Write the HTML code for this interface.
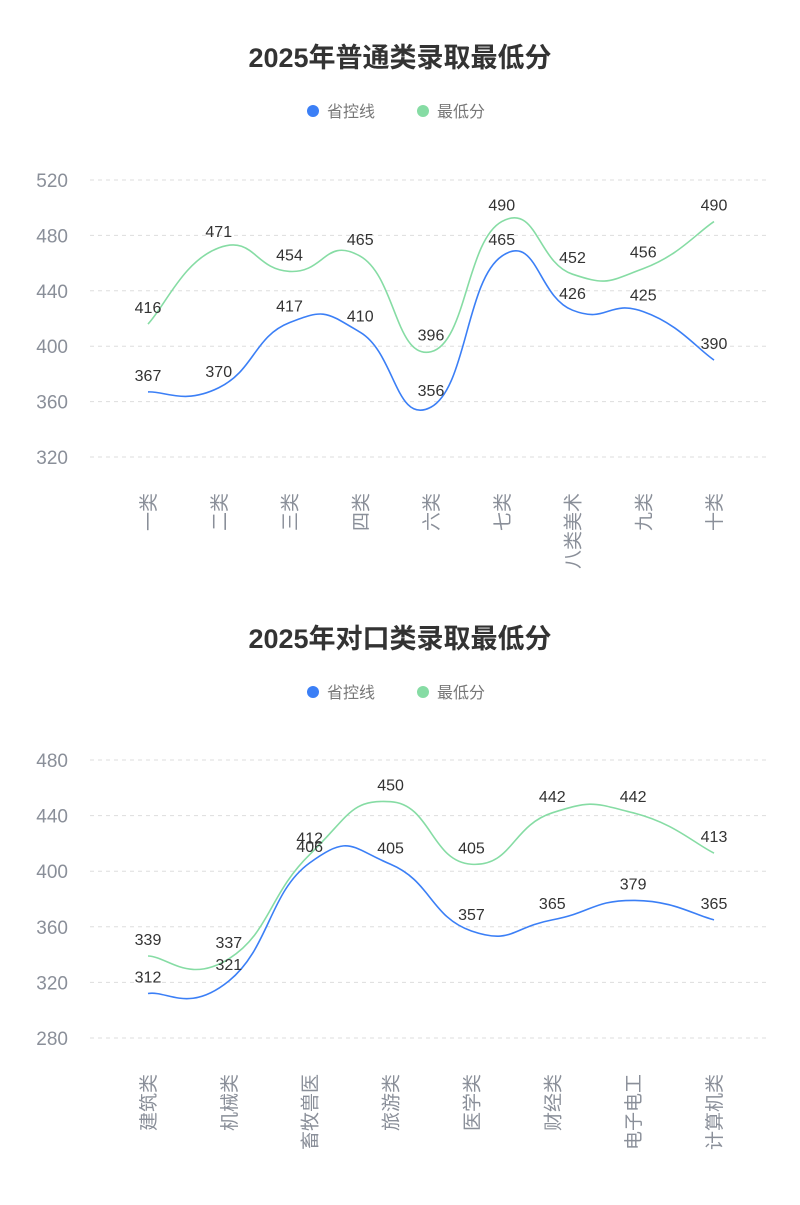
<!DOCTYPE html>
<html><head><meta charset="utf-8">
<style>
body{margin:0;background:#fff;width:800px;height:1200px;overflow:hidden}
svg text{font-family:"Liberation Sans","Noto Sans CJK SC",sans-serif}
</style></head><body>
<svg id="s" width="800" height="1200" xmlns="http://www.w3.org/2000/svg"></svg>
<script>
const S=document.getElementById('s');let h='';
function chart(o){
 const {title,ty,ly,cats,a,b,ymin,ymax,step,y0,y1,x0,x1}=o;
 h+=`<text x="400" y="${ty}" text-anchor="middle" font-size="27" font-weight="bold" fill="#333">${title}</text>`;
 h+=`<circle cx="313" cy="${ly}" r="6" fill="#3b7ff6"/><text x="327" y="${ly+6}" font-size="16" fill="#777">省控线</text>`;
 h+=`<circle cx="423" cy="${ly}" r="6" fill="#86dca4"/><text x="437" y="${ly+6}" font-size="16" fill="#777">最低分</text>`;
 const Y=v=>y0-(v-ymin)/(ymax-ymin)*(y0-y1);
 for(let v=ymin;v<=ymax;v+=step){const y=Y(v);
  h+=`<line x1="90" x2="770" y1="${y}" y2="${y}" stroke="#ddd" stroke-dasharray="4,4"/>`;
  h+=`<text x="68" y="${y+7}" text-anchor="end" font-size="19" fill="#8a8f99">${v}</text>`;}
 const n=cats.length,X=i=>x0+(x1-x0)*i/(n-1);
 cats.forEach((c,i)=>{h+=`<text transform="translate(${X(i)+7},${o.lab}) rotate(-90)" text-anchor="end" font-size="19" fill="#8a8f99">${c}</text>`});
 function path(d,col){const p=d.map((v,i)=>[X(i),Y(v)]);let s=`M${p[0]}`;const t=0.25;
  for(let i=0;i<p.length-1;i++){const p0=p[i-1]||p[i],p1=p[i],p2=p[i+1],p3=p[i+2]||p2;
   const c1=[p1[0]+(p2[0]-p0[0])*t,p1[1]+(p2[1]-p0[1])*t],c2=[p2[0]-(p3[0]-p1[0])*t,p2[1]-(p3[1]-p1[1])*t];
   s+=`C${c1} ${c2} ${p2}`;}
  h+=`<path d="${s}" fill="none" stroke="${col}" stroke-width="1.6"/>`;
  d.forEach((v,i)=>{h+=`<text x="${X(i)}" y="${Y(v)-11}" text-anchor="middle" font-size="16" fill="#333">${v}</text>`});}
 path(b,'#86dca4');path(a,'#3b7ff6');
}
chart({title:'2025年普通类录取最低分',ty:67,ly:111,cats:['一类','二类','三类','四类','六类','七类','八类美术','九类','十类'],
 a:[367,370,417,410,356,465,426,425,390],b:[416,471,454,465,396,490,452,456,490],ymin:320,ymax:520,step:40,y0:457,y1:180,x0:148,x1:714,lab:493});
chart({title:'2025年对口类录取最低分',ty:648,ly:692,cats:['建筑类','机械类','畜牧兽医','旅游类','医学类','财经类','电子电工','计算机类'],
 a:[312,321,406,405,357,365,379,365],b:[339,337,412,450,405,442,442,413],ymin:280,ymax:480,step:40,y0:1038,y1:760,x0:148,x1:714,lab:1074});
S.innerHTML=h;
</script>
</body></html>
